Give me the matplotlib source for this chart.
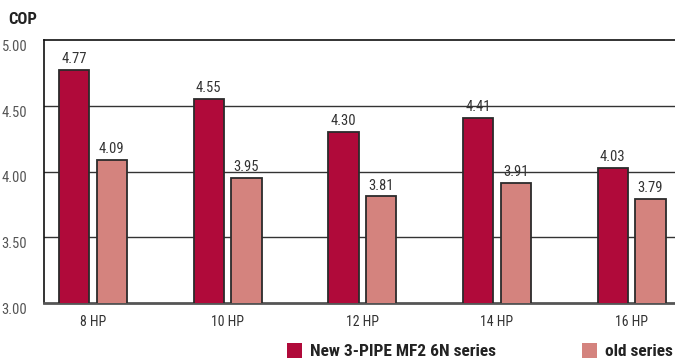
import matplotlib
matplotlib.use("Agg")
import matplotlib.pyplot as plt
from matplotlib import font_manager
from matplotlib.patches import Rectangle
import numpy as np

# COP per unit size, new series vs old series
categories = ["8 HP", "10 HP", "12 HP", "14 HP", "16 HP"]
new_series = [4.77, 4.55, 4.30, 4.41, 4.03]
old_series = [4.09, 3.95, 3.81, 3.91, 3.79]
y_ticks = [3.00, 3.50, 4.00, 4.50, 5.00]

new_color = "#B00A3A"
old_color = "#D4837E"
edge_color = "#2b2b2b"

# pick a narrow face if one is installed
installed = {f.name for f in font_manager.fontManager.ttflist}
narrow = None
for name in ["Liberation Sans Narrow", "DejaVu Sans Condensed", "Roboto Condensed"]:
    if name in installed:
        narrow = name
        break
if narrow is None:
    narrow = "DejaVu Sans"
plt.rcParams["font.family"] = [narrow, "DejaVu Sans"]
plt.rcParams["font.stretch"] = "condensed"

fig = plt.figure(figsize=(6.75, 3.6), dpi=100)
W, H = 675, 360
ax = fig.add_axes([44 / W, 1 - 303 / H, (676 - 44) / W, (303 - 40) / H])

x = np.arange(len(categories))
offset = 0.14
width = 0.225
ax.bar(x - offset, new_series, width, color=new_color,
       edgecolor=edge_color, linewidth=1.3, zorder=3)
ax.bar(x + offset, old_series, width, color=old_color,
       edgecolor=edge_color, linewidth=1.3, zorder=3)

for xi, v in zip(x, new_series):
    ax.text(xi - offset, v + 0.03, f"{v:.2f}", ha="center", va="bottom",
            fontsize=10.5, color="#333333", zorder=4)
for xi, v in zip(x, old_series):
    ax.text(xi + offset, v + 0.03, f"{v:.2f}", ha="center", va="bottom",
            fontsize=10.5, color="#333333", zorder=4)

ax.set_ylim(3.0, 5.0)
ax.set_xlim(-0.363, len(categories) - 1 + 0.33)

for y in y_ticks[1:-1]:
    ax.axhline(y, color="#333333", linewidth=1.0, zorder=1)

ax.set_yticks(y_ticks)
ax.set_yticklabels([f"{v:.2f}" for v in y_ticks])
for lab in ax.get_yticklabels():
    lab.set_verticalalignment("top")
ax.tick_params(axis="y", length=0, pad=12, labelsize=10.5, labelcolor="#555555")
ax.set_xticks(x)
ax.set_xticklabels(categories)
ax.tick_params(axis="x", length=0, pad=9, labelsize=10, labelcolor="#333333")

ax.spines["right"].set_visible(False)
ax.spines["left"].set_color("#111111")
ax.spines["left"].set_linewidth(1.2)
ax.spines["top"].set_color("#111111")
ax.spines["top"].set_linewidth(1.2)
ax.spines["bottom"].set_color("#555555")
ax.spines["bottom"].set_linewidth(2.0)

fig.text(8 / W, 1 - 20 / H, "COP", fontsize=12, fontweight="bold",
         color="#222222", va="center", ha="left")

# legend row along the bottom edge
for sx, label, c in [(287, "New 3-PIPE MF2 6N series", new_color),
                     (582, "old series", old_color)]:
    fig.patches.append(Rectangle((sx / W, 1 - 358 / H), 15 / W, 15 / H,
                                 transform=fig.transFigure, facecolor=c,
                                 edgecolor="none"))
    fig.text((sx + 23) / W, 1 - 351 / H, label, fontsize=12.5,
             fontweight="bold", color="#222222", va="center", ha="left")

fig.savefig("out.png", dpi=100)
